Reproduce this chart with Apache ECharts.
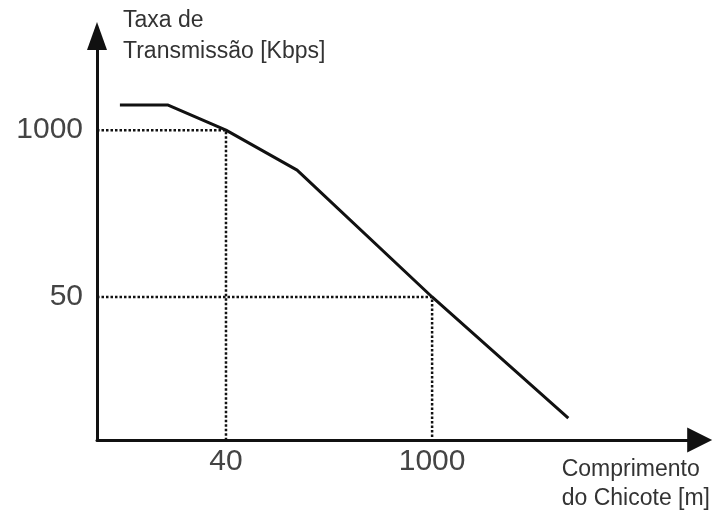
<!DOCTYPE html>
<html>
<head>
<meta charset="utf-8">
<script src="https://cdn.jsdelivr.net/npm/echarts@6/dist/echarts.min.js"></script>
<style>
  html, body { margin: 0; padding: 0; background: #fff; }
  #chart { width: 713px; height: 513px; }
</style>
</head>
<body>
<div id="chart"></div>
<script>
// schematic chart: positions on both axes are in arbitrary units (0-100)
const curve = [
  [3.8, 82.9],
  [11.8, 82.9],
  [21.4, 76.7],
  [33.2, 66.8],
  [55.6, 35.4],
  [78.2, 5.4]
]
const xTickValues = [21.4, 55.6]
const xTickLabels = ['40', '1000']
const yTickValues = [76.7, 35.4]
const yTickLabels = ['1000', '50']
const yAxisTitle = 'Taxa de\nTransmissão [Kbps]'
const xAxisTitle = 'Comprimento\ndo Chicote [m]'

// dotted guide from the y label to the curve and down to the x label
function guide (i) {
  return [[0, yTickValues[i]], [xTickValues[i], yTickValues[i]], [xTickValues[i], 0]]
}

const font = 'Liberation Sans, Arial, sans-serif'
const guideStyle = { color: '#111', width: 2.5, type: [2.5, 2] }
const option = {
  animation: false,
  grid: { left: 97, right: 13, top: 36, bottom: 73 },
  xAxis: {
    type: 'value',
    min: 0,
    max: 100,
    name: xAxisTitle,
    nameLocation: 'end',
    nameGap: -138,
    nameTextStyle: {
      fontFamily: font,
      fontSize: 23,
      lineHeight: 29,
      color: '#333',
      align: 'left',
      verticalAlign: 'top',
      padding: [15, 0, 0, 0]
    },
    axisLine: {
      lineStyle: { color: '#111', width: 3 },
      symbol: ['none', 'triangle'],
      symbolSize: [25, 25]
    },
    axisTick: { show: false },
    splitLine: { show: false },
    axisLabel: {
      customValues: xTickValues,
      formatter: v => xTickLabels[xTickValues.indexOf(v)],
      fontFamily: font,
      fontSize: 30,
      color: '#444',
      margin: 7
    }
  },
  yAxis: {
    type: 'value',
    min: 0,
    max: 100,
    name: yAxisTitle,
    nameLocation: 'end',
    nameGap: 31,
    nameTextStyle: {
      fontFamily: font,
      fontSize: 23,
      lineHeight: 31,
      color: '#333',
      align: 'left',
      verticalAlign: 'top',
      padding: [0, 0, 0, 26]
    },
    axisLine: {
      lineStyle: { color: '#111', width: 3 },
      symbol: ['none', 'triangle'],
      symbolSize: [20, 28]
    },
    axisTick: { show: false },
    splitLine: { show: false },
    axisLabel: {
      customValues: yTickValues,
      formatter: v => yTickLabels[yTickValues.indexOf(v)],
      fontFamily: font,
      fontSize: 30,
      color: '#444',
      margin: 14
    }
  },
  series: [
    {
      type: 'line',
      data: guide(0),
      symbol: 'none',
      lineStyle: guideStyle
    },
    {
      type: 'line',
      data: guide(1),
      symbol: 'none',
      lineStyle: guideStyle
    },
    {
      type: 'line',
      data: curve,
      symbol: 'none',
      lineStyle: { color: '#111', width: 3 }
    }
  ]
}

const myChart = echarts.init(document.getElementById('chart'))
myChart.setOption(option)
</script>
</body>
</html>
